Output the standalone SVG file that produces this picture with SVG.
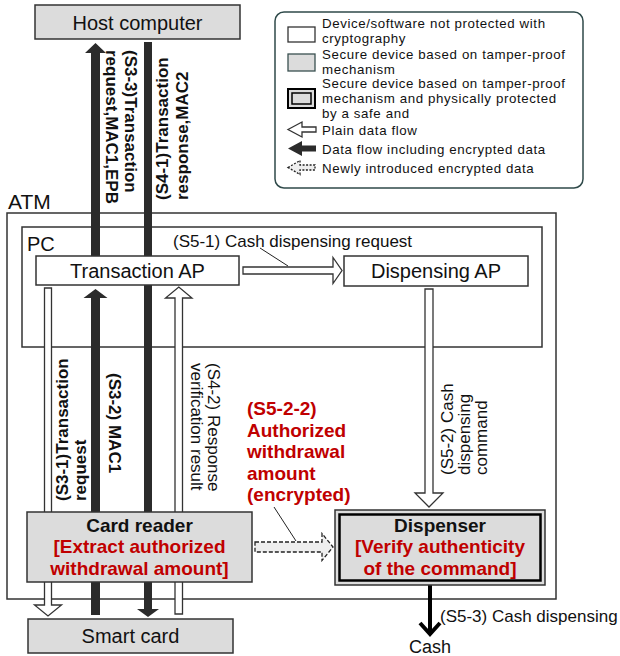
<svg xmlns="http://www.w3.org/2000/svg" width="620" height="656" viewBox="0 0 620 656">
<style>
text{font-family:"Liberation Sans",Arial,sans-serif;fill:#111}
.n20{font-size:20px}
.l17{font-size:17px}
.b17{font-size:17px;font-weight:bold}
.b19{font-size:19px;font-weight:bold}
.red{fill:#c00000}
.leg{font-size:13.3px;letter-spacing:0.6px}
.gray{fill:#dcdcdc;stroke:#333;stroke-width:1.5}
.white{fill:#fff;stroke:#333;stroke-width:1.5}
.hollow{fill:#fff;stroke:#333;stroke-width:1.3}
.solid{fill:#2b2b2b;stroke:none}
.dash{fill:#eeeeee;stroke:#222;stroke-width:1.3;stroke-dasharray:4 2}
.thin{fill:none;stroke:#222;stroke-width:1}
</style>
<rect width="620" height="656" fill="#fff"/>

<!-- containers -->
<g id="atm">
<rect x="7" y="213" width="549" height="386" fill="none" stroke="#333" stroke-width="1.5"/>
<text x="8" y="209" style="font-size:21px">ATM</text>
</g>
<g id="pc">
<rect x="22" y="227" width="520" height="120" fill="none" stroke="#333" stroke-width="1.5"/>
<text x="27" y="251" class="n20">PC</text>
</g>

<!-- connectors -->
<g id="connectors">
<polygon class="solid" points="91,256 100,256 100,53 106,53 95.5,43 85,53 91,53"/>
<polygon class="solid" points="144,42 152,42 152,609 159,609 148,617 137,609 144,609"/>
<polygon class="hollow" points="44.5,288 51.5,288 51.5,605 61.5,605 48,616 34.5,605 44.5,605"/>
<polygon class="solid" points="91,615 100,615 100,298 107.5,298 95.5,289 83.5,298 91,298"/>
<polygon class="hollow" points="175,614 182.5,614 182.5,298 192,298 178.8,287 165.5,298 175,298"/>
<polygon class="hollow" points="243,267 333,267 333,257.5 342,270.5 333,283.5 333,274 243,274"/>
<polygon class="hollow" points="425,289 433,289 433,493 443,493 429,507 415,493 425,493"/>
<polygon class="dash" points="255,542 322,542 322,533.5 333,547 322,560.5 322,552 255,552"/>
<line x1="430" y1="585" x2="430" y2="633" stroke="#000" stroke-width="4"/>
<polyline points="420,623 430,634 440,623" fill="none" stroke="#000" stroke-width="4"/>
<line class="thin" x1="260" y1="248" x2="288" y2="266"/>
<line class="thin" x1="274" y1="507" x2="296" y2="541"/>

<text class="b17" transform="translate(125,50) rotate(90)"><tspan x="0" y="0">(S3-3)Transaction</tspan><tspan x="0" y="19">request,MAC1,EPB</tspan></text>
<text class="b17" transform="translate(168,200) rotate(-90)"><tspan x="0" y="0">(S4-1)Transaction</tspan><tspan x="0" y="20">response,MAC2</tspan></text>
<text class="l17" x="173" y="247">(S5-1) Cash dispensing request</text>
<text class="b17" transform="translate(68,501) rotate(-90)"><tspan x="0" y="0">(S3-1)Transaction</tspan><tspan x="0" y="18">request</tspan></text>
<text class="b17" transform="translate(109,373) rotate(90)">(S3-2) MAC1</text>
<text class="l17" transform="translate(208,363) rotate(90)"><tspan x="0" y="0">(S4-2) Response</tspan><tspan x="0" y="17">verification result</tspan></text>
<text class="l17" transform="translate(453,475) rotate(-90)"><tspan x="0" y="0">(S5-2) Cash</tspan><tspan x="0" y="17">dispensing</tspan><tspan x="0" y="34">command</tspan></text>
<text class="b19 red" x="247"><tspan x="247" y="415">(S5-2-2)</tspan><tspan x="247" y="437">Authorized</tspan><tspan x="247" y="458">withdrawal</tspan><tspan x="247" y="480">amount</tspan><tspan x="247" y="501">(encrypted)</tspan></text>
<text class="l17" x="440" y="622">(S5-3) Cash dispensing</text>
</g>

<!-- nodes -->
<g id="host">
<rect class="gray" x="35" y="5" width="205" height="34"/>
<text class="n20" x="137.5" y="30" text-anchor="middle">Host computer</text>
</g>
<g id="transaction-ap">
<rect class="white" x="36" y="256" width="203" height="29"/>
<text class="n20" x="137.5" y="278" text-anchor="middle">Transaction AP</text>
</g>
<g id="dispensing-ap">
<rect class="white" x="344" y="256" width="184" height="30"/>
<text class="n20" x="436" y="278" text-anchor="middle">Dispensing AP</text>
</g>
<g id="card-reader">
<rect class="gray" x="27" y="512" width="225" height="70"/>
<text class="b19" x="139.5" y="532" text-anchor="middle">Card reader</text>
<text class="b19 red" x="139.5" y="553" text-anchor="middle">[Extract authorized</text>
<text class="b19 red" x="139.5" y="575" text-anchor="middle">withdrawal amount]</text>
</g>
<g id="dispenser">
<rect x="335" y="510" width="210" height="75" fill="#dcdcdc" stroke="#333" stroke-width="1.5"/>
<rect x="339.5" y="514.5" width="201" height="66" fill="none" stroke="#000" stroke-width="2.5"/>
<text class="b19" x="440" y="532" text-anchor="middle">Dispenser</text>
<text class="b19 red" x="440" y="553" text-anchor="middle">[Verify authenticity</text>
<text class="b19 red" x="440" y="575" text-anchor="middle">of the command]</text>
</g>
<g id="smart-card">
<rect class="gray" x="28" y="619" width="205" height="34"/>
<text class="n20" x="130.5" y="643" text-anchor="middle">Smart card</text>
</g>
<g id="cash">
<text x="430" y="653" text-anchor="middle" style="font-size:18px">Cash</text>
</g>

<!-- legend -->
<g id="legend">
<rect x="275" y="12" width="308" height="176" rx="9" fill="#fff" stroke="#2f4a4a" stroke-width="1.5"/>
<rect x="288" y="27" width="27" height="15" fill="#fff" stroke="#333" stroke-width="1.3"/>
<rect x="288" y="54" width="27" height="17" fill="#dcdcdc" stroke="#3a5050" stroke-width="1.3"/>
<rect x="288" y="89" width="27" height="19" fill="#dcdcdc" stroke="#000" stroke-width="2"/>
<rect x="292" y="93" width="19" height="11" fill="none" stroke="#000" stroke-width="1.5"/>
<polygon class="hollow" points="288,129.5 302,122 302,127 316,127 316,132 302,132 302,137"/>
<polygon class="solid" points="288,148.5 302,141 302,145.5 316,145.5 316,151.5 302,151.5 302,156"/>
<polygon class="dash" points="288,167.5 300,160.5 300,165 315,165 315,170 300,170 300,174.5" style="stroke-dasharray:2 1.5"/>
<text class="leg"><tspan x="322" y="27.5">Device/software not protected with</tspan><tspan x="322" y="42.5">cryptography</tspan></text>
<text class="leg"><tspan x="322" y="58.5">Secure device based on tamper-proof</tspan><tspan x="322" y="73.5">mechanism</tspan></text>
<text class="leg"><tspan x="322" y="88">Secure device based on tamper-proof</tspan><tspan x="322" y="103">mechanism and physically protected</tspan><tspan x="322" y="118">by a safe and</tspan></text>
<text class="leg" x="322" y="135">Plain data flow</text>
<text class="leg" x="322" y="154">Data flow including encrypted data</text>
<text class="leg" x="322" y="173">Newly introduced encrypted data</text>
</g>
</svg>
